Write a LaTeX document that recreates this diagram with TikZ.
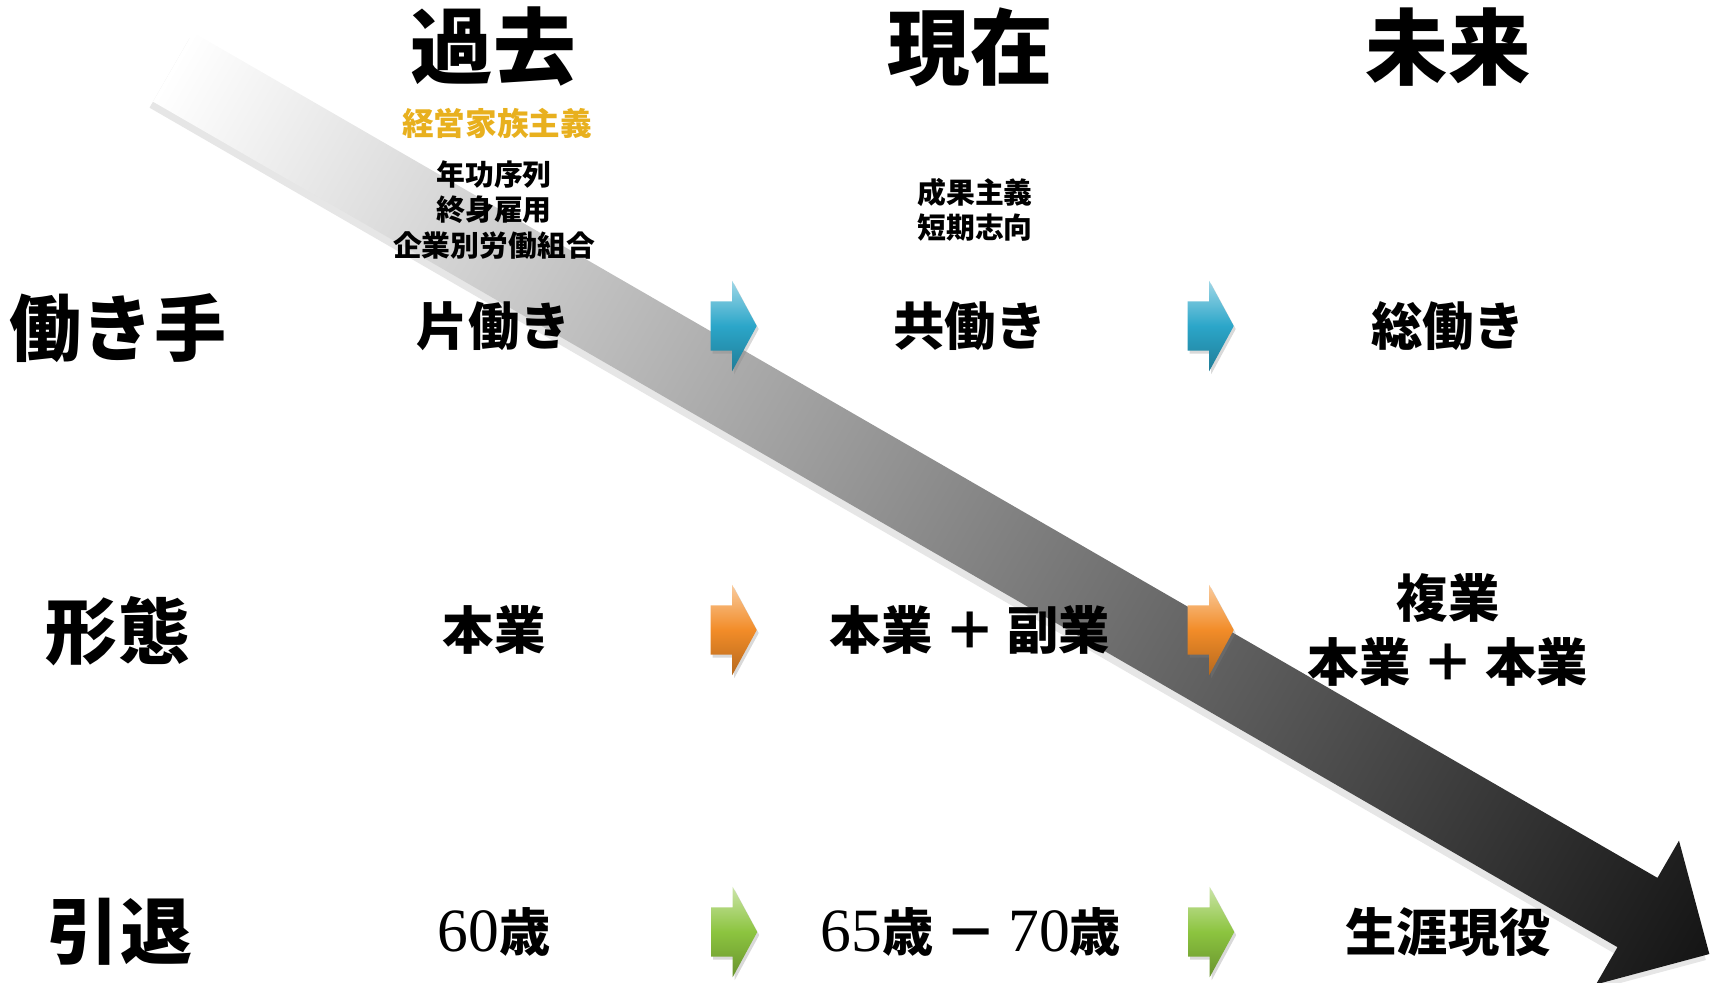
\documentclass[tikz,border=0pt]{standalone}
\usepackage{fontspec}
\setmainfont{Liberation Serif}
\newfontfamily\jp{Noto Sans CJK JP}
\usetikzlibrary{calc,shapes.arrows,shadows}

\definecolor{goldtext}{RGB}{232,176,30}
\definecolor{arrblue}{RGB}{43,166,201}
\definecolor{arrorange}{RGB}{242,140,40}
\definecolor{arrgreen}{RGB}{140,196,63}

\newcommand{\agenum}[1]{{\rmfamily\mdseries\fontsize{17.5pt}{17.5pt}\selectfont #1}}

\begin{document}
\begin{tikzpicture}[x=0.01cm,y=-0.01cm]
\tikzstyle{every node}+=[inner sep=0pt]
\tikzstyle{heading}=[font=\jp\bfseries\fontsize{23.5pt}{23.5pt}\selectfont]
\tikzstyle{goldnote}=[text=goldtext, font=\jp\bfseries\fontsize{9pt}{9pt}\selectfont]
\tikzstyle{note}=[align=center, font=\jp\bfseries\fontsize{8.2pt}{10pt}\selectfont]
\tikzstyle{rowlabel}=[font=\jp\bfseries\fontsize{20.5pt}{20.5pt}\selectfont]
\tikzstyle{cell}=[font=\jp\bfseries\fontsize{14.6pt}{18.2pt}\selectfont]
\tikzstyle{blockarr}=[single arrow, inner xsep=0pt, inner ysep=0.24cm,
  minimum height=0.46cm, minimum width=0.89cm, xshift=-0.05cm,
  single arrow head extend=0.205cm, single arrow tip angle=123,
  drop shadow={opacity=0.3, shadow xshift=0.02cm, shadow yshift=-0.03cm}]
\tikzstyle{bluearr}=[blockarr, top color=arrblue!45!white, bottom color=arrblue!75!black, middle color=arrblue]
\tikzstyle{orangearr}=[blockarr, top color=arrorange!45!white, bottom color=arrorange!75!black, middle color=arrorange]
\tikzstyle{greenarr}=[blockarr, top color=arrgreen!45!white, bottom color=arrgreen!75!black, middle color=arrgreen]
\useasboundingbox (0,0) rectangle (1713,982);
% time arrow
\begin{scope}[transform canvas={shift={(173,67)},rotate=-30}]
\shade [left color=white, middle color=black!30, right color=black!92,
  drop shadow={opacity=0.2, shadow xshift=0cm, shadow yshift=-0.07cm}]
  (0,-40) -- (1691,-40) -- (1691,-83) -- (1774,0) -- (1691,83) -- (1691,40) -- (0,40) -- cycle;
\end{scope}
% columns
\node[heading] (past) at (493,47) {過去};
\node[heading] (present) at (970,47) {現在};
\node[heading] (future) at (1448,47) {未来};
\node[goldnote] (ideal) at (497,123) {経営家族主義};
\node[note] (oldsys) at (494,210) {年功序列\\終身雇用\\企業別労働組合};
\node[note] (newsys) at (975,210) {成果主義\\短期志向};
% rows
\node[rowlabel] (workers) at (118,328) {働き手};
\node[rowlabel] (form) at (118,631) {形態};
\node[rowlabel] (retire) at (120,932) {引退};
\node[cell] (single) at (494,326) {片働き};
\node[cell] (dual) at (970,326) {共働き};
\node[cell] (all) at (1448,326) {総働き};
\node[cell] (main) at (494,630) {本業};
\node[cell] (side) at (970,630) {本業 ＋ 副業};
\node[cell, align=center] (multi) at (1448,630) {複業\\本業 ＋ 本業};
\node[cell] (age60) at (494,932) {\agenum{60}歳};
\node[cell] (age65) at (971,932) {\agenum{65}歳 － \agenum{70}歳};
\node[cell] (lifelong) at (1448,932) {生涯現役};
% step arrows
\node[bluearr] (w1) at ($(single)!0.5!(dual)$) {};
\node[bluearr] (w2) at ($(dual)!0.5!(all)$) {};
\node[orangearr] (f1) at ($(main)!0.5!(side)$) {};
\node[orangearr] (f2) at ($(side)!0.5!(multi)$) {};
\node[greenarr] (r1) at ($(age60)!0.5!(age65)$) {};
\node[greenarr] (r2) at ($(age65)!0.5!(lifelong)$) {};
\end{tikzpicture}
\end{document}
